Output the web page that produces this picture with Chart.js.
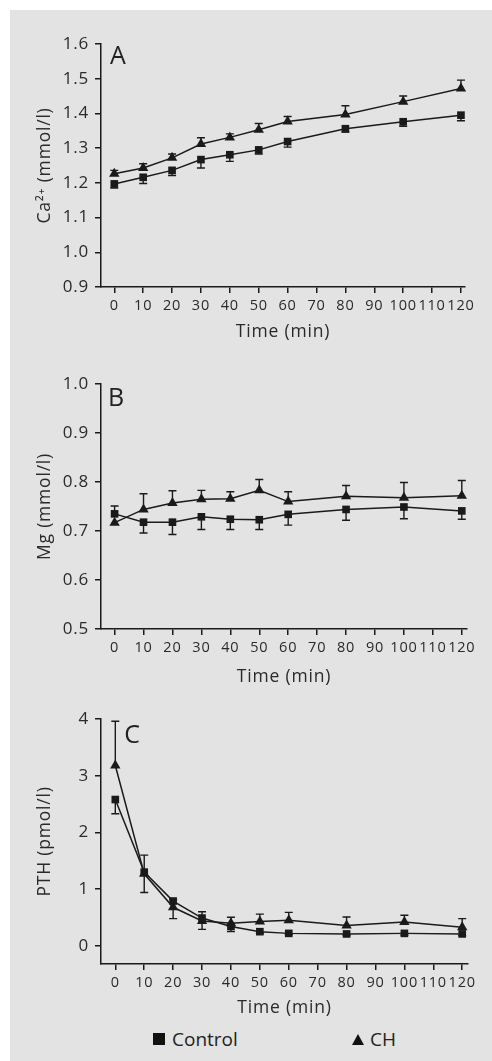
<!DOCTYPE html>
<html>
<head>
<meta charset="utf-8">
<script src="https://cdn.jsdelivr.net/npm/chart.js@4.4.0/dist/chart.umd.min.js"></script>
<style>
  html, body { margin: 0; padding: 0; background: #ffffff; }
  #bg { position: absolute; left: 10px; top: 10px; width: 482px; height: 1051px; background: #e3e3e3; }
  .pane { position: absolute; left: 0; width: 492px; }
  .pane canvas { display: block; }
  .plabel { position: absolute; font-family: 'Open Sans', sans-serif; color: #222; font-size: 25px; line-height: 1; transform: translate(-50%, -50%); }
  .legend { position: absolute; top: 1027px; font-family: 'Open Sans', sans-serif; color: #222; font-size: 19px; line-height: 24px; white-space: nowrap; }
  .sq { display: inline-block; width: 12px; height: 12px; background: #111; margin-right: 7px; vertical-align: 1px; }
  .tri { display: inline-block; width: 0; height: 0; border-left: 6px solid transparent; border-right: 6px solid transparent; border-bottom: 11px solid #111; margin-right: 6px; vertical-align: 1px; }
</style>
</head>
<body>
<div id="bg"></div>
<div class="pane" style="top:0px;height:350px"><canvas id="cA" width="492" height="350"></canvas></div>
<div class="pane" style="top:350px;height:350px"><canvas id="cB" width="492" height="350"></canvas></div>
<div class="pane" style="top:700px;height:320px"><canvas id="cC" width="492" height="320"></canvas></div>
<div class="plabel" style="left:118px;top:54px">A</div>
<div class="plabel" style="left:116px;top:396px">B</div>
<div class="plabel" style="left:132px;top:733px">C</div>
<div class="legend" style="left:153px"><span class="sq"></span>Control</div>
<div class="legend" style="left:352px"><span class="tri"></span>CH</div>
<script>
// ---- data ----
const times = [0, 10, 20, 30, 40, 50, 60, 80, 100, 120];
const xTicks = [0, 10, 20, 30, 40, 50, 60, 70, 80, 90, 100, 110, 120];
const seriesNames = ['Control', 'CH'];

// Panel A: Ca2+ (mmol/l)
const caControl     = [1.197, 1.216, 1.236, 1.267, 1.281, 1.295, 1.319, 1.356, 1.376, 1.395];
const caControlDown = [0.012, 0.018, 0.015, 0.024, 0.019, 0.012, 0.016, 0.010, 0.013, 0.016];
const caCH          = [1.226, 1.243, 1.272, 1.312, 1.331, 1.353, 1.377, 1.397, 1.434, 1.472];
const caCHUp        = [0.010, 0.012, 0.011, 0.018, 0.010, 0.018, 0.014, 0.025, 0.016, 0.024];
const caTicks = [0.9, 1.0, 1.1, 1.2, 1.3, 1.4, 1.5, 1.6];

// Panel B: Mg (mmol/l)
const mgControl     = [0.735, 0.718, 0.718, 0.729, 0.724, 0.723, 0.734, 0.744, 0.749, 0.741];
const mgControlUp   = [0.016, 0, 0, 0, 0, 0, 0, 0, 0, 0];
const mgControlDown = [0, 0.022, 0.025, 0.026, 0.021, 0.020, 0.022, 0.022, 0.024, 0.017];
const mgCH          = [0.717, 0.744, 0.757, 0.765, 0.766, 0.783, 0.760, 0.771, 0.768, 0.772];
const mgCHUp        = [0, 0.032, 0.025, 0.018, 0.014, 0.022, 0.020, 0.022, 0.031, 0.031];
const mgTicks = [0.5, 0.6, 0.7, 0.8, 0.9, 1.0];

// Panel C: PTH (pmol/l)
const pthControl     = [2.58, 1.30, 0.79, 0.49, 0.34, 0.25, 0.22, 0.21, 0.22, 0.21];
const pthControlUp   = [0, 0.30, 0.03, 0.11, 0, 0, 0, 0, 0, 0];
const pthControlDown = [0.25, 0, 0, 0, 0.09, 0.03, 0.02, 0.03, 0.03, 0.03];
const pthCH          = [3.18, 1.27, 0.68, 0.44, 0.40, 0.43, 0.45, 0.36, 0.42, 0.33];
const pthCHUp        = [0.78, 0, 0, 0, 0.105, 0.13, 0.14, 0.15, 0.12, 0.15];
const pthCHDown      = [0, 0.33, 0.20, 0.15, 0, 0, 0, 0, 0, 0];
const pthTicks = [0, 1, 2, 3, 4];

// ---- rendering ----
const FONT = "'Open Sans', sans-serif";
const INK = '#1a1a1a';
const TXT = '#2a2a2a';

const spacing = {
  id: 'spacing',
  beforeUpdate(chart) { chart.ctx.letterSpacing = '0.8px'; },
  beforeDraw(chart) { chart.ctx.letterSpacing = '0.8px'; }
};

const errorBars = {
  id: 'errorBars',
  afterDatasetsDraw(chart) {
    const { ctx } = chart;
    const xs = chart.scales.x, ys = chart.scales.y;
    ctx.save();
    ctx.strokeStyle = INK;
    ctx.lineWidth = 1.4;
    chart.data.datasets.forEach((ds, i) => {
      if (!chart.isDatasetVisible(i)) return;
      ds.data.forEach((pt, j) => {
        const px = xs.getPixelForValue(pt.x);
        const py = ys.getPixelForValue(pt.y);
        const parts = [[ds.errUp ? ds.errUp[j] : 0, 1], [ds.errDown ? ds.errDown[j] : 0, -1]];
        parts.forEach(([e, s]) => {
          if (!e) return;
          const ey = ys.getPixelForValue(pt.y + s * e);
          ctx.beginPath();
          ctx.moveTo(px, py);
          ctx.lineTo(px, ey);
          ctx.moveTo(px - 4, ey);
          ctx.lineTo(px + 4, ey);
          ctx.stroke();
        });
      });
    });
    ctx.restore();
  }
};

function pts(vals) { return times.map((t, i) => ({ x: t, y: vals[i] })); }

function makeChart(id, cfg) {
  const H = document.getElementById(id).height;
  return new Chart(document.getElementById(id), {
    type: 'line',
    data: {
      datasets: [
        { label: seriesNames[0], data: pts(cfg.ctrl), errUp: cfg.ctrlUp, errDown: cfg.ctrlDown,
          borderColor: INK, backgroundColor: INK, borderWidth: 1.5, pointStyle: 'rect',
          pointRadius: 5.4, pointBorderWidth: 0, pointBackgroundColor: INK, tension: 0, clip: false },
        { label: seriesNames[1], data: pts(cfg.ch), errUp: cfg.chUp, errDown: cfg.chDown,
          borderColor: INK, backgroundColor: INK, borderWidth: 1.5, pointStyle: 'triangle',
          pointRadius: 6, pointBorderWidth: 0, pointBackgroundColor: INK, tension: 0, clip: false }
      ]
    },
    options: {
      responsive: false,
      animation: false,
      devicePixelRatio: 1,
      layout: { padding: { left: 0, top: cfg.top, right: 492 - cfg.right, bottom: 0 } },
      plugins: { legend: { display: false }, tooltip: { enabled: false } },
      scales: {
        x: {
          type: 'linear', min: cfg.xmin, max: cfg.xmax,
          afterBuildTicks: s => { s.ticks = xTicks.map(v => ({ value: v })); },
          afterFit: s => { s.height = H - cfg.bottom; },
          ticks: { font: { family: FONT, size: 14.5 }, color: TXT, padding: 4, maxRotation: 0, autoSkip: false,
                   callback: v => String(v) },
          grid: { drawOnChartArea: false, drawTicks: true, tickLength: 6, color: INK, lineWidth: 1.5 },
          border: { display: true, color: INK, width: 1.5 },
          title: { display: true, text: 'Time (min)', color: TXT, font: { family: FONT, size: 17.5 },
                   padding: { top: 0, bottom: cfg.titlePad } }
        },
        y: {
          type: 'linear', min: cfg.ymin, max: cfg.ymax,
          afterBuildTicks: s => { s.ticks = cfg.yTicks.map(v => ({ value: v })); },
          afterFit: s => { s.width = 101; },
          ticks: { font: { family: FONT, size: 17 }, color: TXT, padding: 6,
                   callback: v => cfg.dec ? Number(v).toFixed(cfg.dec) : String(v) },
          grid: { drawOnChartArea: false, drawTicks: true, tickLength: 6, color: INK, lineWidth: 1.5 },
          border: { display: true, color: INK, width: 1.5 },
          title: { display: true, text: cfg.ytitle, color: TXT, font: { family: FONT, size: 17.5 },
                   padding: { top: 35, bottom: 0 } }
        }
      }
    },
    plugins: [spacing, errorBars]
  });
}

makeChart('cA', {
  ctrl: caControl, ctrlUp: null, ctrlDown: caControlDown,
  ch: caCH, chUp: caCHUp, chDown: null,
  yTicks: caTicks, ymin: 0.9, ymax: 1.6, dec: 1,
  xmin: -4.6, xmax: 121.4, top: 44, bottom: 287, right: 465, titlePad: 7,
  ytitle: 'Ca²⁺ (mmol/l)'
});
makeChart('cB', {
  ctrl: mgControl, ctrlUp: mgControlUp, ctrlDown: mgControlDown,
  ch: mgCH, chUp: mgCHUp, chDown: null,
  yTicks: mgTicks, ymin: 0.5, ymax: 1.0, dec: 1,
  xmin: -4.7, xmax: 121.8, top: 34, bottom: 279, right: 467, titlePad: 12,
  ytitle: 'Mg (mmol/l)'
});
makeChart('cC', {
  ctrl: pthControl, ctrlUp: pthControlUp, ctrlDown: pthControlDown,
  ch: pthCH, chUp: pthCHUp, chDown: pthCHDown,
  yTicks: pthTicks, ymin: -0.32, ymax: 4, dec: 0,
  xmin: -4.95, xmax: 122, top: 19, bottom: 264, right: 468, titlePad: 1,
  ytitle: 'PTH (pmol/l)'
});
</script>
</body>
</html>
